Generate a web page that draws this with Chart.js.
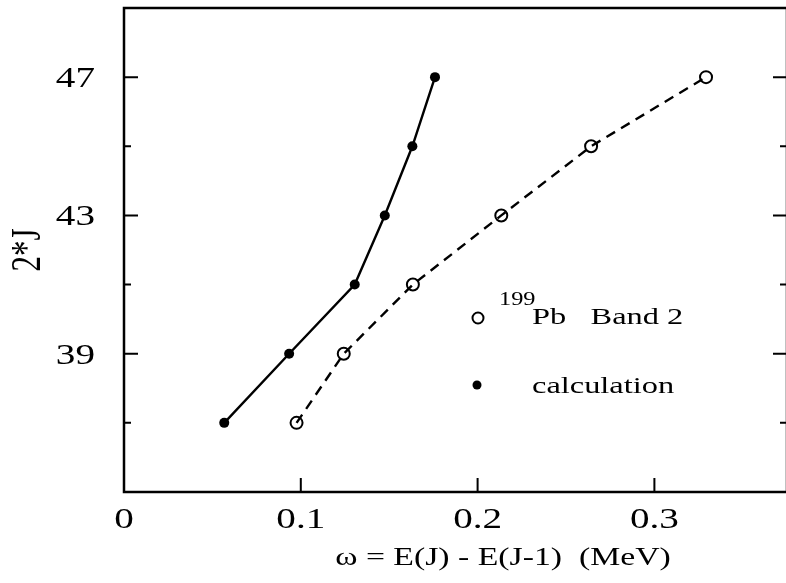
<!DOCTYPE html>
<html>
<head>
<meta charset="utf-8">
<script src="https://cdn.jsdelivr.net/npm/chart.js@4.4.1/dist/chart.umd.min.js"></script>
<style>
  html, body { margin: 0; padding: 0; background: #fff; overflow: hidden; }
  #wrap { width: 800px; height: 583px; position: relative; }
</style>
</head>
<body>
<div id="wrap"><canvas id="chart"></canvas></div>
<script>
// values
const spins = [37, 39, 41, 43, 45, 47];
const omegaExp = [0.0976, 0.1243, 0.1634, 0.2134, 0.2642, 0.3292];
const omegaCalc = [0.0567, 0.0934, 0.1305, 0.1475, 0.1631, 0.1759];

const xTicks = [0, 0.1, 0.2, 0.3];
const xTickLabels = ["0", "0.1", "0.2", "0.3"];
const yTicks = [39, 43, 47];
const yMinorTicks = [37, 41, 45];

const xTitle = "\u03c9 = E(J) - E(J-1)  (MeV)";
const yTitle = "2*J";
const legendExp = ["199", "Pb   Band 2"];
const legendCalc = "calculation";

const SERIF = '"Liberation Serif", "DejaVu Serif", serif';
const STRETCH = 1.35; // the scanned figure is wider than tall

function stretchedText(ctx, str, x, y, size, align) {
  ctx.save();
  ctx.translate(x, y);
  ctx.scale(STRETCH, 1);
  ctx.font = size + "px " + SERIF;
  ctx.textAlign = align || "left";
  ctx.textBaseline = "alphabetic";
  ctx.fillStyle = "#000";
  ctx.fillText(str, 0, 0);
  ctx.restore();
}

const framePlugin = {
  id: "frame",
  afterDraw(chart) {
    const ctx = chart.ctx;
    const a = chart.chartArea;
    const xs = chart.scales.x;
    const ys = chart.scales.y;
    ctx.save();
    ctx.strokeStyle = "#000";
    ctx.lineWidth = 2.5;
    ctx.strokeRect(a.left, a.top, a.right - a.left, a.bottom - a.top);

    ctx.lineWidth = 2;
    ctx.beginPath();
    xTicks.forEach(v => {
      if (v === 0) return;
      const px = xs.getPixelForValue(v);
      ctx.moveTo(px, a.bottom);
      ctx.lineTo(px, a.bottom - 14);
    });
    yTicks.forEach(v => {
      const py = ys.getPixelForValue(v);
      ctx.moveTo(a.left, py);
      ctx.lineTo(a.left + 14, py);
      ctx.moveTo(a.right, py);
      ctx.lineTo(a.right - 14, py);
    });
    yMinorTicks.forEach(v => {
      const py = ys.getPixelForValue(v);
      ctx.moveTo(a.left, py);
      ctx.lineTo(a.left + 7, py);
      ctx.moveTo(a.right, py);
      ctx.lineTo(a.right - 7, py);
    });
    ctx.stroke();

    // tick labels
    xTicks.forEach((v, i) => {
      stretchedText(ctx, xTickLabels[i], xs.getPixelForValue(v), a.bottom + 36, 29, "center");
    });
    yTicks.forEach(v => {
      stretchedText(ctx, String(v), a.left - 29, ys.getPixelForValue(v) + 10, 29, "right");
    });

    // axis titles
    stretchedText(ctx, xTitle, 503, 565, 25, "center");
    ctx.save();
    ctx.translate(40, 250);
    ctx.rotate(-Math.PI / 2);
    ctx.scale(1, STRETCH);
    ctx.font = "31px " + SERIF;
    ctx.textAlign = "center";
    ctx.textBaseline = "alphabetic";
    ctx.fillStyle = "#000";
    ctx.fillText(yTitle, 0, 0);
    ctx.restore();

    // legend
    ctx.lineWidth = 2;
    ctx.beginPath();
    ctx.arc(478, 318, 5.5, 0, Math.PI * 2);
    ctx.stroke();
    ctx.beginPath();
    ctx.arc(477, 385, 4.5, 0, Math.PI * 2);
    ctx.fillStyle = "#000";
    ctx.fill();
    stretchedText(ctx, legendExp[0], 499, 305, 18, "left");
    stretchedText(ctx, legendExp[1], 532, 324, 24, "left");
    stretchedText(ctx, legendCalc, 532, 393, 24, "left");
    ctx.restore();
  }
};

new Chart(document.getElementById("chart"), {
  type: "scatter",
  data: {
    datasets: [
      {
        label: "199Pb Band 2",
        data: spins.map((s, i) => ({ x: omegaExp[i], y: s })),
        showLine: true,
        borderColor: "#000",
        borderWidth: 2.4,
        borderDash: [10, 7],
        pointRadius: 6,
        pointBorderWidth: 2,
        pointBorderColor: "#000",
        pointBackgroundColor: "rgba(0,0,0,0)"
      },
      {
        label: "calculation",
        data: spins.map((s, i) => ({ x: omegaCalc[i], y: s })),
        showLine: true,
        borderColor: "#000",
        borderWidth: 2.4,
        pointRadius: 5,
        pointBorderWidth: 0,
        pointBackgroundColor: "#000"
      }
    ]
  },
  options: {
    responsive: true,
    maintainAspectRatio: false,
    animation: false,
    layout: { padding: { top: 8, right: 13, left: 0, bottom: 0 } },
    plugins: { legend: { display: false }, tooltip: { enabled: false } },
    scales: {
      x: {
        type: "linear",
        min: 0,
        max: 0.375,
        grid: { display: false },
        border: { display: false },
        ticks: { display: false },
        afterFit: s => { s.height = 91; }
      },
      y: {
        type: "linear",
        min: 35,
        max: 49,
        grid: { display: false },
        border: { display: false },
        ticks: { display: false },
        afterFit: s => { s.width = 124; }
      }
    }
  },
  plugins: [framePlugin]
});
</script>
</body>
</html>
